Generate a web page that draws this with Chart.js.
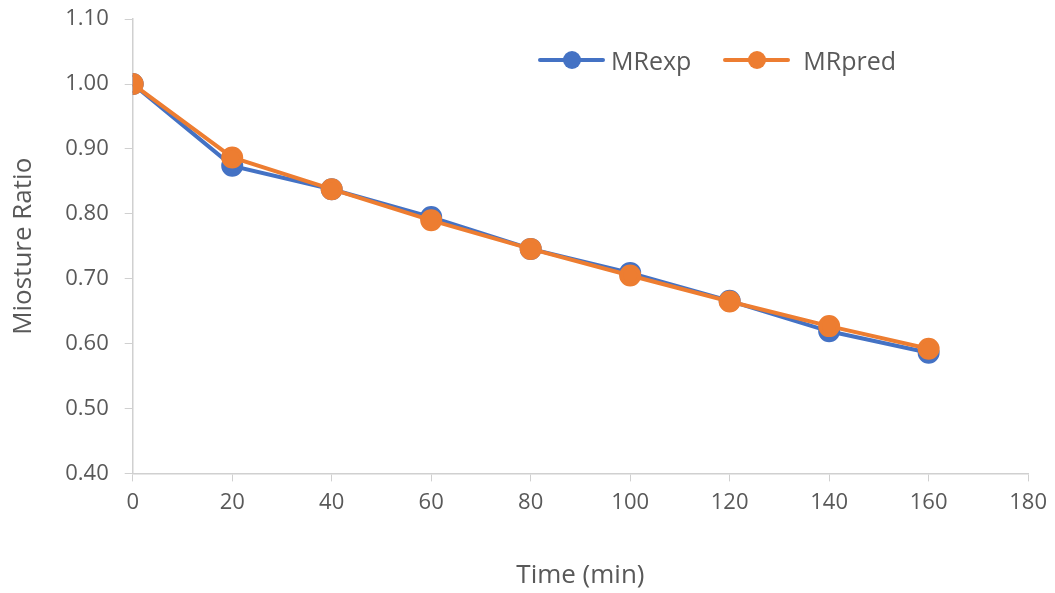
<!DOCTYPE html>
<html>
<head>
<meta charset="utf-8">
<script src="https://cdn.jsdelivr.net/npm/chart.js@4"></script>
<style>
  body { margin: 0; background: #fff; }
  #wrap { position: relative; width: 1055px; height: 593px; overflow: hidden; }
  #lineplot { position: absolute; left: 0; top: -10px; }
  #legend { position: absolute; top: 43px; left: 538px; font-family: "Open Sans", sans-serif; font-size: 25px; color: #595959; display: flex; line-height: 34px; }
  .item { display: flex; align-items: center; }
  .mk { position: relative; width: 67px; height: 34px; }
  .mk .ln { position: absolute; left: 0; right: 0; top: 15px; height: 4px; border-radius: 2px; }
  .mk .dot { position: absolute; left: 25px; top: 8px; width: 18px; height: 18px; border-radius: 50%; }
</style>
</head>
<body>
<div id="wrap">
  <canvas id="lineplot" width="1055" height="603"></canvas>
  <div id="legend">
    <div class="item" style="margin-right:32px"><div class="mk" style="margin-right:6px"><div class="ln" style="background:#4472C4"></div><div class="dot" style="background:#4472C4"></div></div>MRexp</div>
    <div class="item"><div class="mk" style="margin-right:13px"><div class="ln" style="background:#ED7D31"></div><div class="dot" style="background:#ED7D31"></div></div>MRpred</div>
  </div>
</div>
<script>
var timeValues = [0, 20, 40, 60, 80, 100, 120, 140, 160];
var mrExp = [1.000, 0.874, 0.838, 0.795, 0.746, 0.709, 0.666, 0.619, 0.586];
var mrPred = [1.000, 0.887, 0.838, 0.790, 0.746, 0.705, 0.665, 0.627, 0.592];

function pts(ys) {
    return timeValues.map(function (t, i) { return {x: t, y: ys[i]}; });
}

var tickFont = {family: "'Open Sans', sans-serif", size: 22};
var titleFont = {family: "'Open Sans', sans-serif", size: 26};
var axisColor = "#d0d0d0";

new Chart("lineplot", {
    type: "line",
    data: {
        datasets: [{
            label: "MRexp",
            data: pts(mrExp),
            borderColor: "#4472C4",
            backgroundColor: "#4472C4",
            borderWidth: 4,
            pointRadius: 9,
            pointHoverRadius: 9,
            order: 2
        }, {
            label: "MRpred",
            data: pts(mrPred),
            borderColor: "#ED7D31",
            backgroundColor: "#ED7D31",
            borderWidth: 4,
            pointRadius: 9,
            pointHoverRadius: 9,
            order: 1
        }]
    },
    options: {
        responsive: false,
        animation: false,
        layout: {padding: {top: 0, right: 8, left: 8, bottom: 2}},
        plugins: {
            legend: {display: false},
            tooltip: {enabled: false}
        },
        scales: {
            x: {
                type: "linear",
                min: 0, max: 180,
                ticks: {stepSize: 20, color: "#595959", font: tickFont, padding: 8},
                grid: {drawOnChartArea: false, color: axisColor, tickLength: 8},
                border: {color: axisColor, width: 1.5},
                title: {display: true, text: "Time (min)", color: "#595959", font: titleFont, padding: {top: 36, bottom: 0}}
            },
            y: {
                min: 0.4, max: 1.1,
                ticks: {stepSize: 0.1, color: "#595959", font: tickFont, padding: 16,
                    callback: function (v) { return v.toFixed(2); }},
                grid: {drawOnChartArea: false, color: axisColor, tickLength: 8},
                border: {color: axisColor, width: 1.5},
                title: {display: true, text: "Miosture Ratio", color: "#595959", font: titleFont, padding: {top: 0, bottom: 10}}
            }
        }
    }
});
</script>
</body>
</html>
